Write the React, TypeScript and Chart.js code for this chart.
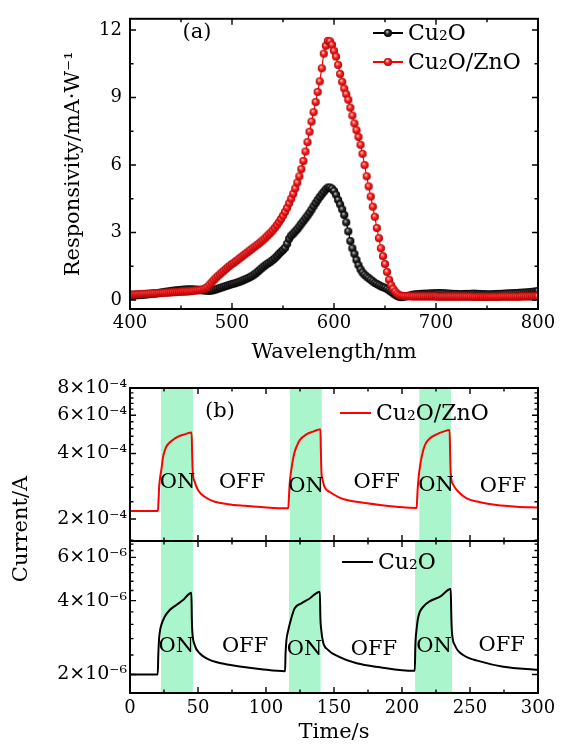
import React, { useEffect, useRef } from "react";
import { Chart, registerables } from "chart.js";

Chart.register(...registerables);

const SERIF = "'DejaVu Serif', 'Liberation Serif', serif";
const BAND_COLOR = "#abf5cd";

// ---------------- Panel (a): responsivity spectra ----------------
const WAVELENGTH_NM = [
  400, 402, 404, 406, 408, 410, 412, 414, 416, 418,
  420, 422, 424, 426, 428, 430, 432, 434, 436, 438,
  440, 442, 444, 446, 448, 450, 452, 454, 456, 458,
  460, 462, 464, 466, 468, 470, 472, 474, 476, 478,
  480, 482, 484, 486, 488, 490, 492, 494, 496, 498,
  500, 502, 504, 506, 508, 510, 512, 514, 516, 518,
  520, 522, 524, 526, 528, 530, 532, 534, 536, 538,
  540, 542, 544, 546, 548, 550, 552, 554, 556, 558,
  560, 562, 564, 566, 568, 570, 572, 574, 576, 578,
  580, 582, 584, 586, 588, 590, 592, 594, 596, 598,
  600, 602, 604, 606, 608, 610, 612, 614, 616, 618,
  620, 622, 624, 626, 628, 630, 632, 634, 636, 638,
  640, 642, 644, 646, 648, 650, 652, 654, 656, 658,
  660, 662, 664, 666, 668, 670, 672, 674, 676, 678,
  680, 682, 684, 686, 688, 690, 692, 694, 696, 698,
  700, 702, 704, 706, 708, 710, 712, 714, 716, 718,
  720, 722, 724, 726, 728, 730, 732, 734, 736, 738,
  740, 742, 744, 746, 748, 750, 752, 754, 756, 758,
  760, 762, 764, 766, 768, 770, 772, 774, 776, 778,
  780, 782, 784, 786, 788, 790, 792, 794, 796, 798,
  800,
];

// mA/W, Cu2O
const RESP_CU2O = [
  0.20, 0.20, 0.21, 0.21, 0.22, 0.22, 0.23, 0.24, 0.25, 0.26,
  0.27, 0.28, 0.29, 0.30, 0.31, 0.33, 0.34, 0.36, 0.37, 0.38,
  0.40, 0.41, 0.42, 0.43, 0.44, 0.45, 0.46, 0.46, 0.47, 0.47,
  0.47, 0.47, 0.46, 0.46, 0.45, 0.44, 0.43, 0.42, 0.41, 0.41,
  0.42, 0.44, 0.47, 0.50, 0.53, 0.56, 0.59, 0.62, 0.65, 0.68,
  0.71, 0.73, 0.76, 0.79, 0.82, 0.86, 0.90, 0.94, 0.98, 1.03,
  1.08, 1.14, 1.21, 1.29, 1.37, 1.45, 1.52, 1.59, 1.65, 1.71,
  1.78, 1.86, 1.95, 2.05, 2.14, 2.22, 2.32, 2.50, 2.72, 2.86,
  2.95, 3.05, 3.15, 3.27, 3.39, 3.51, 3.63, 3.75, 3.88, 4.02,
  4.17, 4.31, 4.45, 4.58, 4.70, 4.81, 4.92, 5.00, 5.00, 4.95,
  4.85, 4.68, 4.45, 4.25, 4.03, 3.78, 3.45, 3.05, 2.62, 2.30,
  2.05, 1.78, 1.55, 1.36, 1.22, 1.12, 1.04, 0.97, 0.90, 0.83,
  0.76, 0.71, 0.66, 0.61, 0.57, 0.54, 0.49, 0.43, 0.37, 0.30,
  0.24, 0.18, 0.14, 0.13, 0.14, 0.16, 0.18, 0.20, 0.22, 0.24,
  0.25, 0.26, 0.27, 0.27, 0.28, 0.28, 0.28, 0.29, 0.29, 0.30,
  0.30, 0.31, 0.31, 0.30, 0.30, 0.29, 0.28, 0.28, 0.27, 0.27,
  0.27, 0.26, 0.26, 0.26, 0.27, 0.27, 0.27, 0.27, 0.28, 0.28,
  0.27, 0.27, 0.26, 0.26, 0.26, 0.25, 0.25, 0.25, 0.26, 0.26,
  0.27, 0.27, 0.27, 0.28, 0.28, 0.29, 0.29, 0.30, 0.30, 0.31,
  0.31, 0.32, 0.32, 0.33, 0.33, 0.34, 0.35, 0.36, 0.37, 0.38,
  0.40,
];

// mA/W, Cu2O/ZnO
const RESP_CU2O_ZNO = [
  0.24, 0.24, 0.25, 0.25, 0.26, 0.26, 0.27, 0.27, 0.28, 0.28,
  0.29, 0.29, 0.30, 0.30, 0.31, 0.31, 0.32, 0.32, 0.33, 0.33,
  0.34, 0.35, 0.35, 0.36, 0.36, 0.37, 0.37, 0.38, 0.38, 0.39,
  0.40, 0.41, 0.42, 0.43, 0.44, 0.46, 0.48, 0.52, 0.58, 0.68,
  0.78, 0.88, 0.97, 1.06, 1.14, 1.22, 1.30, 1.38, 1.46, 1.53,
  1.60, 1.66, 1.73, 1.80, 1.87, 1.94, 2.01, 2.08, 2.15, 2.22,
  2.29, 2.36, 2.43, 2.50, 2.57, 2.65, 2.73, 2.82, 2.91, 3.00,
  3.10, 3.21, 3.33, 3.46, 3.60, 3.75, 3.92, 4.10, 4.30, 4.50,
  4.72, 4.96, 5.22, 5.50, 5.82, 6.18, 6.60, 7.02, 7.48, 7.93,
  8.35, 8.80, 9.25, 9.72, 10.30, 10.95, 11.30, 11.52, 11.50, 11.35,
  11.08, 10.82, 10.45, 10.05, 9.70, 9.40, 9.15, 8.90, 8.55, 8.20,
  7.85, 7.55, 7.25, 6.90, 6.50, 6.00, 5.50, 5.05, 4.60, 4.15,
  3.70, 3.20, 2.75, 2.30, 1.95, 1.60, 1.25, 0.90, 0.66, 0.50,
  0.37, 0.28, 0.22, 0.19, 0.18, 0.17, 0.17, 0.17, 0.16, 0.16,
  0.16, 0.16, 0.16, 0.16, 0.16, 0.16, 0.16, 0.16, 0.16, 0.16,
  0.16, 0.15, 0.15, 0.15, 0.15, 0.15, 0.15, 0.15, 0.15, 0.15,
  0.15, 0.15, 0.15, 0.15, 0.15, 0.15, 0.15, 0.15, 0.14, 0.14,
  0.14, 0.14, 0.14, 0.14, 0.14, 0.14, 0.14, 0.14, 0.14, 0.14,
  0.14, 0.14, 0.15, 0.15, 0.15, 0.15, 0.15, 0.15, 0.15, 0.15,
  0.15, 0.15, 0.16, 0.16, 0.16, 0.16, 0.16, 0.16, 0.16, 0.17,
  0.17,
];

const A_X_MAJOR = [400, 500, 600, 700, 800];
const A_X_MINOR = [450, 550, 650, 750];
const A_Y_MAJOR = [0, 3, 6, 9, 12];
const A_Y_MINOR = [1.5, 4.5, 7.5, 10.5];

// ---------------- Panel (b): photocurrent vs time ----------------
const TIME_CU2O_ZNO = [
  0, 20.6, 21.0, 21.5, 22.3, 23.0, 24.3, 25.5, 26.7, 28.5,
  30.4, 35.3, 40.2, 45.3, 45.7, 46.0, 46.3, 47.5, 50.0, 54.9,
  62.3, 72.0, 84.3, 96.6, 116.4, 116.9, 117.5, 118.6, 120.0, 121.1,
  122.8, 124.8, 129.7, 134.6, 140.0, 140.4, 140.8, 141.5, 143.1, 147.0,
  152.9, 158.0, 166.7, 183.8, 196.0, 210.8, 211.3, 212.0, 212.7, 214.5,
  216.9, 220.6, 225.5, 230.4, 235.0, 235.4, 235.8, 237.7, 241.4, 247.5,
  257.4, 269.6, 284.3, 300,
];
const CURRENT_CU2O_ZNO = [
  2.18e-4, 2.18e-4, 2.45e-4, 2.85e-4, 3.15e-4, 3.35e-4, 3.85e-4, 4.12e-4, 4.30e-4, 4.45e-4,
  4.56e-4, 4.78e-4, 4.90e-4, 5.00e-4, 4.00e-4, 3.45e-4, 3.20e-4, 2.97e-4, 2.72e-4, 2.53e-4,
  2.40e-4, 2.34e-4, 2.30e-4, 2.27e-4, 2.24e-4, 2.55e-4, 2.95e-4, 3.36e-4, 3.80e-4, 4.07e-4,
  4.35e-4, 4.61e-4, 4.90e-4, 5.04e-4, 5.17e-4, 4.00e-4, 3.25e-4, 3.05e-4, 2.80e-4, 2.66e-4,
  2.53e-4, 2.46e-4, 2.40e-4, 2.32e-4, 2.28e-4, 2.25e-4, 2.60e-4, 3.00e-4, 3.30e-4, 3.87e-4,
  4.38e-4, 4.70e-4, 4.90e-4, 5.04e-4, 5.13e-4, 4.00e-4, 3.25e-4, 2.87e-4, 2.67e-4, 2.49e-4,
  2.39e-4, 2.32e-4, 2.28e-4, 2.26e-4,
];

const TIME_CU2O = [
  0, 20.4, 20.8, 21.3, 22.0, 23.0, 25.5, 29.2, 34.1, 39.0,
  45.1, 45.5, 45.9, 47.5, 51.2, 57.4, 67.1, 79.4, 96.6, 114.0,
  114.4, 115.0, 116.2, 118.6, 121.1, 126.0, 132.1, 139.6, 140.0, 140.5,
  141.9, 145.6, 153.0, 166.7, 183.8, 208.3, 209.4, 209.8, 210.8, 212.0,
  215.7, 220.6, 228.0, 235.8, 236.3, 236.7, 238.9, 245.0, 257.4, 274.5,
  300,
];
const CURRENT_CU2O = [
  2.00e-6, 2.00e-6, 2.40e-6, 2.75e-6, 3.00e-6, 3.18e-6, 3.44e-6, 3.66e-6, 3.84e-6, 4.02e-6,
  4.31e-6, 3.30e-6, 2.95e-6, 2.64e-6, 2.44e-6, 2.31e-6, 2.22e-6, 2.16e-6, 2.10e-6, 2.06e-6,
  2.45e-6, 2.75e-6, 3.00e-6, 3.39e-6, 3.72e-6, 3.90e-6, 4.08e-6, 4.35e-6, 3.40e-6, 3.08e-6,
  2.72e-6, 2.52e-6, 2.37e-6, 2.22e-6, 2.14e-6, 2.07e-6, 2.07e-6, 2.60e-6, 3.08e-6, 3.44e-6,
  3.78e-6, 3.98e-6, 4.15e-6, 4.46e-6, 3.40e-6, 2.99e-6, 2.63e-6, 2.40e-6, 2.26e-6, 2.15e-6,
  2.09e-6,
];

// illumination (ON) intervals in seconds
const ON_INTERVALS_UPPER = [[22.8, 46.3], [117.6, 141.0], [212.7, 236.0]];
const ON_INTERVALS_LOWER = [[22.8, 46.3], [116.9, 140.2], [209.6, 236.8]];

const B_X_MAJOR = [0, 50, 100, 150, 200, 250, 300];
const B_X_MINOR = [25, 75, 125, 175, 225, 275];

const UP_Y_MAJOR = [2e-4, 4e-4, 6e-4, 8e-4];
const UP_Y_LABELS = ["2×10⁻⁴", "4×10⁻⁴", "6×10⁻⁴", "8×10⁻⁴"];
const UP_Y_MINOR = [1.6e-4, 2.4e-4, 2.8e-4, 3.2e-4, 3.6e-4, 4.4e-4, 4.8e-4, 5.2e-4, 5.6e-4, 6.4e-4, 6.8e-4, 7.2e-4, 7.6e-4];

const LO_Y_MAJOR = [2e-6, 4e-6, 6e-6];
const LO_Y_LABELS = ["2×10⁻⁶", "4×10⁻⁶", "6×10⁻⁶"];
const LO_Y_MINOR = [2.4e-6, 2.8e-6, 3.2e-6, 3.6e-6, 4.4e-6, 4.8e-6, 5.2e-6, 5.6e-6, 6.4e-6, 6.8e-6];

// ON / OFF annotation anchors (time, current)
const UP_NOTES: [string, number, number][] = [
  ["ON", 35.0, 2.93e-4], ["OFF", 82.4, 2.94e-4], ["ON", 129.5, 2.82e-4],
  ["OFF", 181.4, 2.93e-4], ["ON", 225.0, 2.86e-4], ["OFF", 274.3, 2.82e-4],
];
const LO_NOTES: [string, number, number][] = [
  ["ON", 34.0, 2.6e-6], ["OFF", 84.6, 2.6e-6], ["ON", 128.3, 2.52e-6],
  ["OFF", 179.4, 2.52e-6], ["ON", 223.5, 2.6e-6], ["OFF", 273.3, 2.63e-6],
];

// ---------------- helpers ----------------
function makeBall(base: string, dark: string, light: string, r: number) {
  const size = Math.ceil(r * 2) + 1;
  const c = document.createElement("canvas");
  c.width = size;
  c.height = size;
  const g = c.getContext("2d")!;
  const cx = size / 2;
  const cy = size / 2;
  const grad = g.createRadialGradient(cx - r * 0.25, cy - r * 0.35, r * 0.05, cx, cy, r);
  grad.addColorStop(0, light);
  grad.addColorStop(0.45, base);
  grad.addColorStop(1, dark);
  g.fillStyle = grad;
  g.beginPath();
  g.arc(cx, cy, r, 0, Math.PI * 2);
  g.fill();
  return c;
}

type Txt = { text: string; x: number; y: number; size: number; align?: CanvasTextAlign; rot?: number };
type Leg = { label: string; color: string; x0: number; x1: number; y: number; ball?: HTMLCanvasElement };
type PanelCfg = {
  xMajor: number[];
  xMinor: number[];
  yMajor: number[];
  yMinor: number[];
  bands?: number[][];
  texts?: Txt[];
  notes?: [string, number, number][];
  legend?: Leg[];
};

const NOTE_SIZE = 21;
const LEGEND_SIZE = 22;

function panelPlugin(cfg: PanelCfg) {
  return {
    id: "panelDeco",
    beforeDatasetsDraw(chart: any) {
      if (!cfg.bands) return;
      const { ctx, chartArea: a } = chart;
      const xs = chart.scales.x;
      ctx.save();
      ctx.fillStyle = BAND_COLOR;
      for (const [s, e] of cfg.bands) {
        const x0 = xs.getPixelForValue(s);
        const x1 = xs.getPixelForValue(e);
        ctx.fillRect(x0, a.top, x1 - x0, a.bottom - a.top);
      }
      ctx.restore();
    },
    afterDatasetsDraw(chart: any) {
      const { ctx, chartArea: a } = chart;
      const xs = chart.scales.x;
      const ys = chart.scales.y;
      ctx.save();
      ctx.strokeStyle = "#000";
      ctx.lineWidth = 1.4;
      ctx.beginPath();
      const vt = (v: number, len: number) => {
        const p = xs.getPixelForValue(v);
        ctx.moveTo(p, a.bottom);
        ctx.lineTo(p, a.bottom - len);
        ctx.moveTo(p, a.top);
        ctx.lineTo(p, a.top + len);
      };
      const ht = (v: number, len: number) => {
        const p = ys.getPixelForValue(v);
        ctx.moveTo(a.left, p);
        ctx.lineTo(a.left + len, p);
        ctx.moveTo(a.right, p);
        ctx.lineTo(a.right - len, p);
      };
      cfg.xMajor.forEach((v) => vt(v, 6));
      cfg.xMinor.forEach((v) => vt(v, 3.5));
      cfg.yMajor.forEach((v) => ht(v, 6));
      cfg.yMinor.forEach((v) => ht(v, 3.5));
      ctx.stroke();
      ctx.lineWidth = 2;
      ctx.strokeRect(a.left, a.top, a.right - a.left, a.bottom - a.top);
      ctx.restore();
    },
    afterDraw(chart: any) {
      const { ctx } = chart;
      const xs = chart.scales.x;
      const ys = chart.scales.y;
      ctx.save();
      ctx.fillStyle = "#000";
      ctx.textBaseline = "middle";
      for (const t of cfg.texts || []) {
        ctx.save();
        ctx.font = `${t.size}px ${SERIF}`;
        ctx.textAlign = t.align || "center";
        ctx.translate(t.x, t.y);
        if (t.rot) ctx.rotate(t.rot);
        ctx.fillText(t.text, 0, 0);
        ctx.restore();
      }
      ctx.font = `${NOTE_SIZE}px ${SERIF}`;
      ctx.textAlign = "center";
      for (const [label, tv, cv] of cfg.notes || []) {
        ctx.fillText(label, xs.getPixelForValue(tv), ys.getPixelForValue(cv));
      }
      for (const l of cfg.legend || []) {
        ctx.strokeStyle = l.color;
        ctx.lineWidth = 2;
        ctx.beginPath();
        ctx.moveTo(l.x0, l.y);
        ctx.lineTo(l.x1, l.y);
        ctx.stroke();
        if (l.ball) {
          const m = (l.x0 + l.x1) / 2;
          ctx.drawImage(l.ball, m - l.ball.width / 2, l.y - l.ball.height / 2);
        }
        ctx.fillStyle = "#000";
        ctx.textAlign = "left";
        ctx.font = `${LEGEND_SIZE}px ${SERIF}`;
        ctx.fillText(l.label, l.x1 + 5, l.y + 1);
      }
      ctx.restore();
    },
  };
}

const tickFont = { family: SERIF, size: 18 };
const logTickFont = { family: SERIF, size: 19 };
const titleFont = { family: SERIF, size: 21 };

function buildA() {
  const redBall = makeBall("#ff2424", "#a80000", "#ffd8d8", 4.1);
  const blackBall = makeBall("#2a2a2a", "#000000", "#c8c8c8", 4.1);
  return {
    type: "line",
    data: {
      datasets: [
        {
          label: "Cu₂O/ZnO",
          data: WAVELENGTH_NM.map((x, i) => ({ x, y: RESP_CU2O_ZNO[i] })),
          borderColor: "#ff0000",
          borderWidth: 1.2,
          pointStyle: redBall,
          pointRadius: 4.1,
          order: 0,
        },
        {
          label: "Cu₂O",
          data: WAVELENGTH_NM.map((x, i) => ({ x, y: RESP_CU2O[i] })),
          borderColor: "#000000",
          borderWidth: 1.2,
          pointStyle: blackBall,
          pointRadius: 4.1,
          order: 1,
        },
      ],
    },
    options: {
      responsive: false,
      animation: false,
      events: [],
      layout: { padding: { left: 0, right: 29, top: 6, bottom: 0 } },
      plugins: { legend: { display: false }, tooltip: { enabled: false } },
      scales: {
        x: {
          type: "linear",
          min: 400,
          max: 800,
          bounds: "data",
          grid: { display: false, drawTicks: false },
          border: { display: false },
          ticks: { font: tickFont, color: "#000", padding: 4, autoSkip: false, maxRotation: 0 },
          afterBuildTicks: (s: any) => {
            s.ticks = A_X_MAJOR.map((v) => ({ value: v }));
          },
          afterFit: (s: any) => {
            s.height = 61;
          },
          title: { display: true, text: "Wavelength/nm", font: titleFont, color: "#000", padding: { top: 0, bottom: 5 } },
        },
        y: {
          type: "linear",
          min: -0.4,
          max: 12.5,
          bounds: "data",
          grid: { display: false, drawTicks: false },
          border: { display: false },
          ticks: { font: tickFont, color: "#000", padding: 8, autoSkip: false },
          afterBuildTicks: (s: any) => {
            s.ticks = A_Y_MAJOR.map((v) => ({ value: v }));
          },
          afterFit: (s: any) => {
            s.width = 130;
          },
          title: { display: true, text: "Responsivity/mA·W⁻¹", font: titleFont, color: "#000", padding: { top: 61, bottom: 0 } },
        },
      },
    },
    plugins: [
      panelPlugin({
        xMajor: A_X_MAJOR,
        xMinor: A_X_MINOR,
        yMajor: A_Y_MAJOR,
        yMinor: A_Y_MINOR,
        texts: [{ text: "(a)", x: 197, y: 33, size: 21 }],
        legend: [
          { label: "Cu₂O", color: "#000", x0: 373, x1: 403, y: 33, ball: blackBall },
          { label: "Cu₂O/ZnO", color: "#ff0000", x0: 373, x1: 403, y: 62, ball: redBall },
        ],
      }),
    ],
  };
}

function logAxis(min: number, max: number, major: number[], labels: string[]) {
  return {
    type: "logarithmic",
    min,
    max,
    bounds: "data",
    grid: { display: false, drawTicks: false },
    border: { display: false },
    ticks: {
      font: logTickFont,
      color: "#000",
      padding: 3,
      autoSkip: false,
      callback: (v: number) => {
        const i = major.findIndex((m) => Math.abs(m - v) / m < 1e-6);
        return i >= 0 ? labels[i] : "";
      },
    },
    afterBuildTicks: (s: any) => {
      s.ticks = major.map((v) => ({ value: v }));
    },
    afterFit: (s: any) => {
      s.width = 130;
    },
  };
}

function buildUpper() {
  return {
    type: "line",
    data: {
      datasets: [
        {
          label: "Cu₂O/ZnO",
          data: TIME_CU2O_ZNO.map((x, i) => ({ x, y: CURRENT_CU2O_ZNO[i] })),
          borderColor: "#ff0000",
          borderWidth: 2,
          pointRadius: 0,
          cubicInterpolationMode: "monotone",
        },
      ],
    },
    options: {
      responsive: false,
      animation: false,
      events: [],
      layout: { padding: { left: 0, right: 29, top: 18, bottom: 206 } },
      plugins: { legend: { display: false }, tooltip: { enabled: false } },
      scales: {
        x: { type: "linear", min: 0, max: 300, bounds: "data", display: false },
        y: logAxis(1.585e-4, 8e-4, UP_Y_MAJOR, UP_Y_LABELS),
      },
    },
    plugins: [
      panelPlugin({
        xMajor: B_X_MAJOR,
        xMinor: B_X_MINOR,
        yMajor: UP_Y_MAJOR,
        yMinor: UP_Y_MINOR,
        bands: ON_INTERVALS_UPPER,
        notes: UP_NOTES,
        texts: [
          { text: "(b)", x: 220, y: 41.5, size: 21 },
          { text: "Current/A", x: 22, y: 159, size: 21, rot: -Math.PI / 2 },
        ],
        legend: [{ label: "Cu₂O/ZnO", color: "#ff0000", x0: 340, x1: 371, y: 43 }],
      }),
    ],
  };
}

function buildLower() {
  return {
    type: "line",
    data: {
      datasets: [
        {
          label: "Cu₂O",
          data: TIME_CU2O.map((x, i) => ({ x, y: CURRENT_CU2O[i] })),
          borderColor: "#000000",
          borderWidth: 2,
          pointRadius: 0,
          cubicInterpolationMode: "monotone",
        },
      ],
    },
    options: {
      responsive: false,
      animation: false,
      events: [],
      layout: { padding: { left: 0, right: 29, top: 171, bottom: 0 } },
      plugins: { legend: { display: false }, tooltip: { enabled: false } },
      scales: {
        x: {
          type: "linear",
          min: 0,
          max: 300,
          bounds: "data",
          grid: { display: false, drawTicks: false },
          border: { display: false },
          ticks: { font: tickFont, color: "#000", padding: 5, autoSkip: false, maxRotation: 0 },
          afterBuildTicks: (s: any) => {
            s.ticks = B_X_MAJOR.map((v) => ({ value: v }));
          },
          afterFit: (s: any) => {
            s.height = 54;
          },
          title: { display: true, text: "Time/s", font: titleFont, color: "#000", padding: { top: 0, bottom: 1.5 } },
        },
        y: logAxis(1.68e-6, 7e-6, LO_Y_MAJOR, LO_Y_LABELS),
      },
    },
    plugins: [
      panelPlugin({
        xMajor: B_X_MAJOR,
        xMinor: B_X_MINOR,
        yMajor: LO_Y_MAJOR,
        yMinor: LO_Y_MINOR,
        bands: ON_INTERVALS_LOWER,
        notes: LO_NOTES,
        legend: [{ label: "Cu₂O", color: "#000", x0: 342, x1: 373, y: 192 }],
      }),
    ],
  };
}

function ChartCanvas({ top, width, height, build }: { top: number; width: number; height: number; build: () => any }) {
  const ref = useRef<HTMLCanvasElement>(null);
  useEffect(() => {
    const chart = new Chart(ref.current as HTMLCanvasElement, build());
    return () => chart.destroy();
  }, []);
  return (
    <canvas
      ref={ref}
      width={width}
      height={height}
      style={{ position: "absolute", left: 0, top, width, height }}
    />
  );
}

export default function App() {
  return (
    <div style={{ position: "absolute", left: 0, top: 0, width: 567, height: 747, background: "#fff" }}>
      <ChartCanvas top={0} width={567} height={370} build={buildA} />
      <ChartCanvas top={370} width={567} height={377} build={buildUpper} />
      <ChartCanvas top={370} width={567} height={377} build={buildLower} />
    </div>
  );
}
